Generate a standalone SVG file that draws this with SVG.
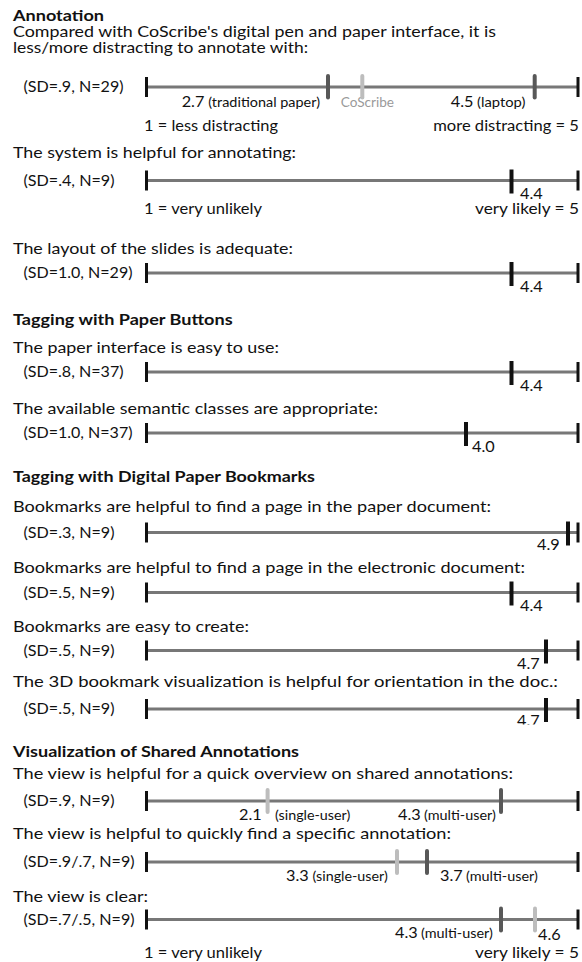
<svg xmlns="http://www.w3.org/2000/svg" xmlns:xlink="http://www.w3.org/1999/xlink" width="582" height="962" viewBox="0 0 582 962">
<style>
.q{font-family:Lato,"Liberation Sans",sans-serif;font-size:16px;fill:#111}
.h{font-weight:bold}
.l{font-family:Lato,"Liberation Sans",sans-serif;font-size:14.5px;fill:#111}
.s{font-size:12.5px}
.cs{fill:#9a9a9a;font-size:13px}
.axis{stroke:#777;stroke-width:3}
.end{stroke:#111;stroke-width:3}
.mk{stroke:#111;stroke-width:4}
.dk{stroke:#585858;stroke-width:4;stroke-linecap:round}
.lt{stroke:#bdbdbd;stroke-width:4;stroke-linecap:round}
</style>
<defs>
<g id="scale">
<line class="axis" x1="146.5" y1="0" x2="578" y2="0"/>
<line class="end" x1="146.5" y1="-10" x2="146.5" y2="10"/>
<line class="end" x1="578" y1="-10" x2="578" y2="10"/>
</g>
<clipPath id="cut47"><rect x="500" y="700" width="80" height="24.5"/></clipPath>
</defs>
<rect width="582" height="962" fill="#fff"/>

<g id="sec-annotation">
<text class="q h" x="13" y="20.5" textLength="91" lengthAdjust="spacingAndGlyphs">Annotation</text>
</g>

<g id="q-distracting">
<text class="q" x="13" y="36.5" textLength="483" lengthAdjust="spacingAndGlyphs">Compared with CoScribe's digital pen and paper interface, it is</text>
<text class="q" x="13" y="52.5" textLength="295" lengthAdjust="spacingAndGlyphs">less/more distracting to annotate with:</text>
<text class="l" x="23.5" y="92" textLength="100" lengthAdjust="spacingAndGlyphs">(SD=.9, N=29)</text>
<use xlink:href="#scale" href="#scale" y="87"/>
<text class="l" x="181.7" y="106.7" textLength="22.7" lengthAdjust="spacingAndGlyphs">2.7</text>
<text class="l s" x="208.3" y="106.7" textLength="111.7" lengthAdjust="spacingAndGlyphs">(traditional paper)</text>
<text class="l cs" x="340.7" y="106.7" textLength="53.3" lengthAdjust="spacingAndGlyphs">CoScribe</text>
<text class="l" x="450.8" y="106.7" textLength="22.7" lengthAdjust="spacingAndGlyphs">4.5</text>
<text class="l s" x="477" y="106.7" textLength="48.4" lengthAdjust="spacingAndGlyphs">(laptop)</text>
<line class="dk" x1="328" y1="76" x2="328" y2="97.5"/>
<line class="lt" x1="362.3" y1="76" x2="362.3" y2="97.5"/>
<line class="dk" x1="534.7" y1="76" x2="534.7" y2="97.5"/>
<text class="l" x="144" y="131.3" textLength="134" lengthAdjust="spacingAndGlyphs">1 = less distracting</text>
<text class="l" x="579" y="131.3" text-anchor="end" textLength="145.8" lengthAdjust="spacingAndGlyphs">more distracting = 5</text>
</g>

<g id="q-helpful-annotating">
<text class="q" x="13" y="158" textLength="283" lengthAdjust="spacingAndGlyphs">The system is helpful for annotating:</text>
<text class="l" x="23.5" y="185.5" textLength="91" lengthAdjust="spacingAndGlyphs">(SD=.4, N=9)</text>
<use xlink:href="#scale" href="#scale" y="180.5"/>
<line class="mk" x1="511.5" y1="169.5" x2="511.5" y2="193.5"/>
<text class="l" x="520" y="199" textLength="22.7" lengthAdjust="spacingAndGlyphs">4.4</text>
<text class="l" x="144" y="213.5" textLength="118" lengthAdjust="spacingAndGlyphs">1 = very unlikely</text>
<text class="l" x="579" y="213.5" text-anchor="end" textLength="104" lengthAdjust="spacingAndGlyphs">very likely = 5</text>
</g>

<g id="q-layout">
<text class="q" x="13" y="254" textLength="280" lengthAdjust="spacingAndGlyphs">The layout of the slides is adequate:</text>
<text class="l" x="23.5" y="278" textLength="109" lengthAdjust="spacingAndGlyphs">(SD=1.0, N=29)</text>
<use xlink:href="#scale" href="#scale" y="273"/>
<line class="mk" x1="511.5" y1="262" x2="511.5" y2="286"/>
<text class="l" x="520" y="291.5" textLength="22.7" lengthAdjust="spacingAndGlyphs">4.4</text>
</g>

<g id="sec-paper-buttons">
<text class="q h" x="13" y="325" textLength="219.6" lengthAdjust="spacingAndGlyphs">Tagging with Paper Buttons</text>
</g>

<g id="q-easy-use">
<text class="q" x="13" y="353" textLength="266" lengthAdjust="spacingAndGlyphs">The paper interface is easy to use:</text>
<text class="l" x="23.5" y="377" textLength="100" lengthAdjust="spacingAndGlyphs">(SD=.8, N=37)</text>
<use xlink:href="#scale" href="#scale" y="372"/>
<line class="mk" x1="511.5" y1="361" x2="511.5" y2="385"/>
<text class="l" x="520" y="390.5" textLength="22.7" lengthAdjust="spacingAndGlyphs">4.4</text>
</g>

<g id="q-semantic">
<text class="q" x="13" y="414" textLength="365" lengthAdjust="spacingAndGlyphs">The available semantic classes are appropriate:</text>
<text class="l" x="23.5" y="438" textLength="109" lengthAdjust="spacingAndGlyphs">(SD=1.0, N=37)</text>
<use xlink:href="#scale" href="#scale" y="433"/>
<line class="mk" x1="466" y1="422" x2="466" y2="446"/>
<text class="l" x="472" y="451.5" textLength="22.7" lengthAdjust="spacingAndGlyphs">4.0</text>
</g>

<g id="sec-bookmarks">
<text class="q h" x="13" y="482" textLength="302" lengthAdjust="spacingAndGlyphs">Tagging with Digital Paper Bookmarks</text>
</g>

<g id="q-bm-paper">
<text class="q" x="13" y="511.5" textLength="478" lengthAdjust="spacingAndGlyphs">Bookmarks are helpful to find a page in the paper document:</text>
<text class="l" x="23.5" y="537.5" textLength="91" lengthAdjust="spacingAndGlyphs">(SD=.3, N=9)</text>
<use xlink:href="#scale" href="#scale" y="532.5"/>
<line class="mk" x1="568" y1="521.5" x2="568" y2="545.5"/>
<text class="l" x="537" y="550" textLength="22.7" lengthAdjust="spacingAndGlyphs">4.9</text>
</g>

<g id="q-bm-electronic">
<text class="q" x="13" y="573" textLength="512" lengthAdjust="spacingAndGlyphs">Bookmarks are helpful to find a page in the electronic document:</text>
<text class="l" x="23.5" y="597.5" textLength="91" lengthAdjust="spacingAndGlyphs">(SD=.5, N=9)</text>
<use xlink:href="#scale" href="#scale" y="592.5"/>
<line class="mk" x1="511.5" y1="581.5" x2="511.5" y2="605.5"/>
<text class="l" x="520" y="611" textLength="22.7" lengthAdjust="spacingAndGlyphs">4.4</text>
</g>

<g id="q-bm-create">
<text class="q" x="13" y="632" textLength="236" lengthAdjust="spacingAndGlyphs">Bookmarks are easy to create:</text>
<text class="l" x="23.5" y="655.5" textLength="91" lengthAdjust="spacingAndGlyphs">(SD=.5, N=9)</text>
<use xlink:href="#scale" href="#scale" y="650.5"/>
<line class="mk" x1="546" y1="639.5" x2="546" y2="663.5"/>
<text class="l" x="517" y="669" textLength="22.7" lengthAdjust="spacingAndGlyphs">4.7</text>
</g>

<g id="q-bm-3d">
<text class="q" x="13" y="687" textLength="545" lengthAdjust="spacingAndGlyphs">The 3D bookmark visualization is helpful for orientation in the doc.:</text>
<text class="l" x="23.5" y="714" textLength="91" lengthAdjust="spacingAndGlyphs">(SD=.5, N=9)</text>
<use xlink:href="#scale" href="#scale" y="709"/>
<line class="mk" x1="546" y1="698" x2="546" y2="722"/>
<text class="l" x="517" y="726" textLength="22.7" lengthAdjust="spacingAndGlyphs" clip-path="url(#cut47)">4.7</text>
</g>

<g id="sec-shared">
<text class="q h" x="13" y="757" textLength="286" lengthAdjust="spacingAndGlyphs">Visualization of Shared Annotations</text>
</g>

<g id="q-overview">
<text class="q" x="13" y="779" textLength="500" lengthAdjust="spacingAndGlyphs">The view is helpful for a quick overview on shared annotations:</text>
<text class="l" x="23.5" y="806" textLength="91" lengthAdjust="spacingAndGlyphs">(SD=.9, N=9)</text>
<use xlink:href="#scale" href="#scale" y="801"/>
<line class="lt" x1="267.6" y1="790" x2="267.6" y2="812"/>
<line class="dk" x1="501" y1="790" x2="501" y2="812"/>
<text class="l" x="239" y="819.5" textLength="22.7" lengthAdjust="spacingAndGlyphs">2.1</text>
<text class="l s" x="275" y="819.5" textLength="75.3" lengthAdjust="spacingAndGlyphs">(single-user)</text>
<text class="l" x="398" y="819.5" textLength="22.7" lengthAdjust="spacingAndGlyphs">4.3</text>
<text class="l s" x="424" y="819.5" textLength="71.9" lengthAdjust="spacingAndGlyphs">(multi-user)</text>
</g>

<g id="q-find">
<text class="q" x="13" y="839" textLength="438" lengthAdjust="spacingAndGlyphs">The view is helpful to quickly find a specific annotation:</text>
<text class="l" x="23.5" y="867" textLength="111" lengthAdjust="spacingAndGlyphs">(SD=.9/.7, N=9)</text>
<use xlink:href="#scale" href="#scale" y="862"/>
<line class="lt" x1="397" y1="851" x2="397" y2="873"/>
<line class="dk" x1="427" y1="851" x2="427" y2="873"/>
<text class="l" x="286" y="880.5" textLength="22.7" lengthAdjust="spacingAndGlyphs">3.3</text>
<text class="l s" x="312.5" y="880.5" textLength="75.3" lengthAdjust="spacingAndGlyphs">(single-user)</text>
<text class="l" x="440" y="880.5" textLength="22.7" lengthAdjust="spacingAndGlyphs">3.7</text>
<text class="l s" x="466" y="880.5" textLength="71.9" lengthAdjust="spacingAndGlyphs">(multi-user)</text>
</g>

<g id="q-clear">
<text class="q" x="13" y="902" textLength="135" lengthAdjust="spacingAndGlyphs">The view is clear:</text>
<text class="l" x="23.5" y="925" textLength="111" lengthAdjust="spacingAndGlyphs">(SD=.7/.5, N=9)</text>
<use xlink:href="#scale" href="#scale" y="919.5"/>
<line class="dk" x1="501" y1="908.5" x2="501" y2="930.5"/>
<line class="lt" x1="535" y1="908.5" x2="535" y2="930.5"/>
<text class="l" x="395" y="938" textLength="22.7" lengthAdjust="spacingAndGlyphs">4.3</text>
<text class="l s" x="421" y="938" textLength="71.9" lengthAdjust="spacingAndGlyphs">(multi-user)</text>
<text class="l" x="538" y="939.5" textLength="22.7" lengthAdjust="spacingAndGlyphs">4.6</text>
<text class="l" x="144" y="958" textLength="118" lengthAdjust="spacingAndGlyphs">1 = very unlikely</text>
<text class="l" x="579" y="958" text-anchor="end" textLength="104" lengthAdjust="spacingAndGlyphs">very likely = 5</text>
</g>
</svg>
